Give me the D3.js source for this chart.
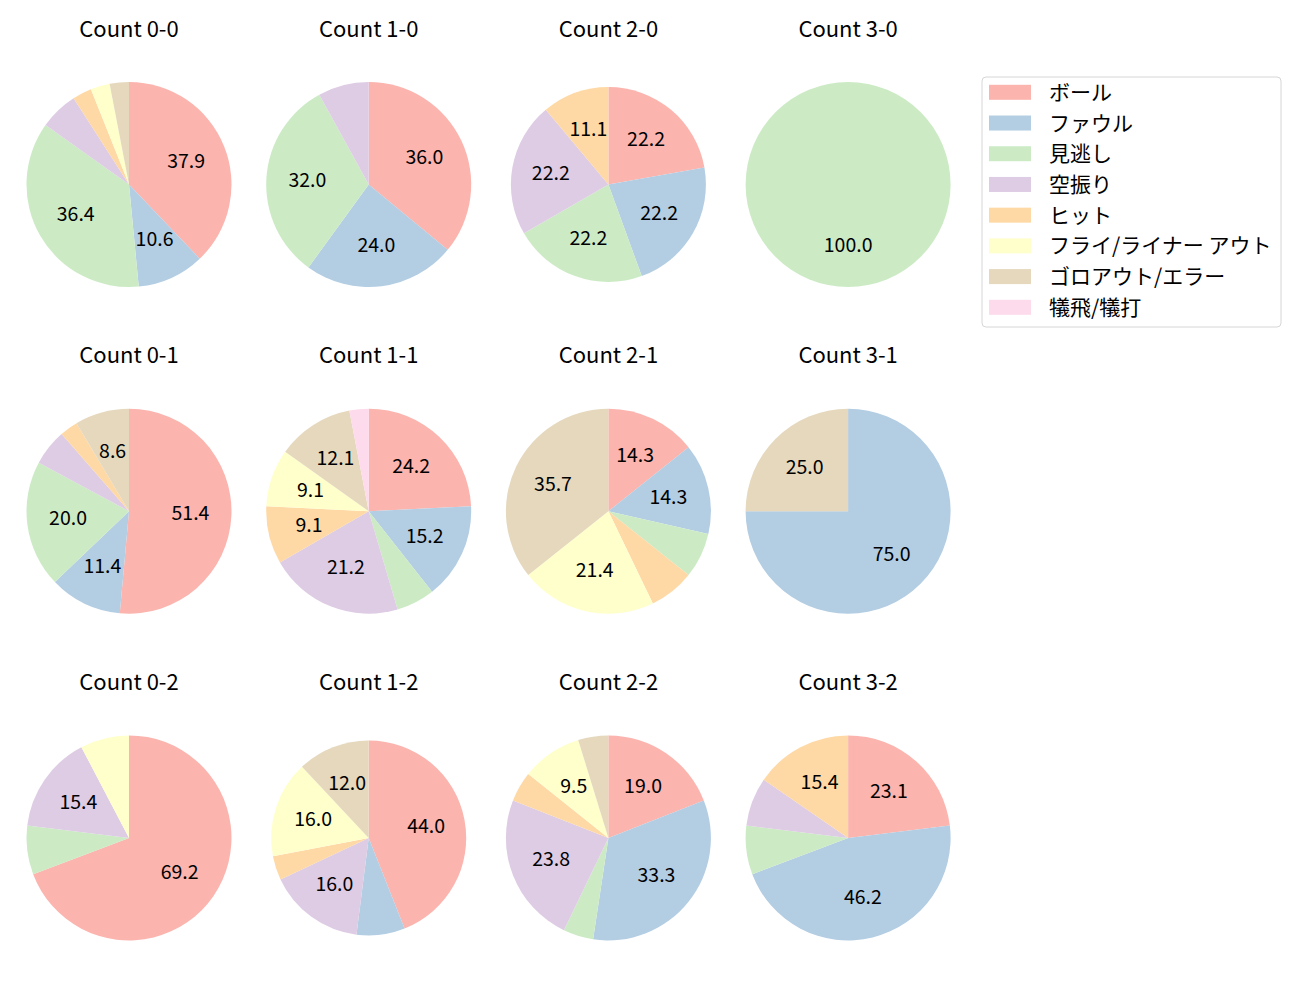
<!DOCTYPE html>
<html>
<head>
<meta charset="utf-8">
<script src="https://cdn.jsdelivr.net/npm/d3@7"></script>
<style>
  body { margin: 0; background: #fff; }
  svg text { font-family: "Noto Sans CJK JP", "Noto Sans", sans-serif; fill: #000; }
</style>
</head>
<body>
<svg id="chart" width="1300" height="1000"></svg>
<script>
// ---- data ----
const categories = ["ボール", "ファウル", "見逃し", "空振り", "ヒット", "フライ/ライナー アウト", "ゴロアウト/エラー", "犠飛/犠打"];
const countLabels = ["0-0", "1-0", "2-0", "3-0", "0-1", "1-1", "2-1", "3-1", "0-2", "1-2", "2-2", "3-2"];
const values00 = [25, 7, 24, 4, 2, 2, 2, 0];
const values10 = [9, 6, 8, 2, 0, 0, 0, 0];
const values20 = [2, 2, 2, 2, 1, 0, 0, 0];
const values30 = [0, 0, 1, 0, 0, 0, 0, 0];
const values01 = [18, 4, 7, 2, 1, 0, 3, 0];
const values11 = [8, 5, 2, 7, 3, 3, 4, 1];
const values21 = [2, 2, 1, 0, 1, 3, 5, 0];
const values31 = [0, 3, 0, 0, 0, 0, 1, 0];
const values02 = [9, 0, 1, 2, 0, 1, 0, 0];
const values12 = [11, 2, 0, 4, 1, 4, 3, 0];
const values22 = [4, 7, 1, 5, 1, 2, 1, 0];
const values32 = [3, 6, 1, 1, 2, 0, 0, 0];
const seriesValues = [values00, values10, values20, values30, values01, values11, values21, values31, values02, values12, values22, values32];

// ---- style / layout ----
const colors = ["#fbb4ae", "#b3cde3", "#ccebc5", "#decbe4", "#fed9a6", "#ffffcc", "#e5d8bd", "#fddaec"];
const labelThreshold = 8.5;
const colX0 = 129, colStep = 239.7, rowY0 = 184.5, rowStep = 326.7;
const bigR = 102.5, smallR = 97.5;
const smallPies = new Set(["2-0", "1-2"]);

const svg = d3.select("#chart");
const color = d3.scaleOrdinal().domain(categories).range(colors);
const pie = d3.pie().sort(null).value(d => d.v).startAngle(0).endAngle(2 * Math.PI);

countLabels.forEach((lab, i) => {
  const col = i % 4, row = Math.floor(i / 4);
  const cx = colX0 + col * colStep, cy = rowY0 + row * rowStep;
  const r = smallPies.has(lab) ? smallR : bigR;
  const vals = seriesValues[i];
  const total = d3.sum(vals);
  const data = categories.map((c, k) => ({ c, v: vals[k] }));
  const arcs = pie(data).filter(a => a.data.v > 0);
  const arc = d3.arc().innerRadius(0).outerRadius(r);
  const g = svg.append("g").attr("transform", `translate(${cx},${cy})`);
  g.selectAll("path").data(arcs).join("path")
    .attr("d", arc)
    .attr("fill", d => color(d.data.c));
  const lblArc = d3.arc().innerRadius(r * 0.6).outerRadius(r * 0.6);
  g.selectAll("text.pct").data(arcs.filter(a => a.data.v / total * 100 >= labelThreshold)).join("text")
    .attr("class", "pct")
    .attr("transform", d => { const p = lblArc.centroid(d); return `translate(${p[0]},${p[1] - 2.5})`; })
    .attr("text-anchor", "middle")
    .attr("dominant-baseline", "central")
    .style("font-size", "19.5px")
    .text(d => (d.data.v / total * 100).toFixed(1));
  svg.append("text")
    .attr("x", cx).attr("y", cy - 158)
    .attr("text-anchor", "middle")
    .attr("dominant-baseline", "central")
    .style("font-size", "22px")
    .text("Count " + lab);
});

// ---- legend ----
const lg = svg.append("g");
lg.append("rect")
  .attr("x", 982).attr("y", 77).attr("width", 299).attr("height", 250)
  .attr("rx", 4).attr("fill", "#fff").attr("fill-opacity", 0.8)
  .attr("stroke", "#d6d6d6").attr("stroke-width", 1);
const ly = d3.scalePoint().domain(categories).range([92.3, 307.3]);
categories.forEach(c => {
  lg.append("rect").attr("x", 989).attr("y", ly(c) - 7.5).attr("width", 42).attr("height", 15).attr("fill", color(c));
  lg.append("text").attr("x", 1049).attr("y", ly(c) - 1.5).attr("dominant-baseline", "central")
    .style("font-size", "21px").text(c);
});
</script>
</body>
</html>
